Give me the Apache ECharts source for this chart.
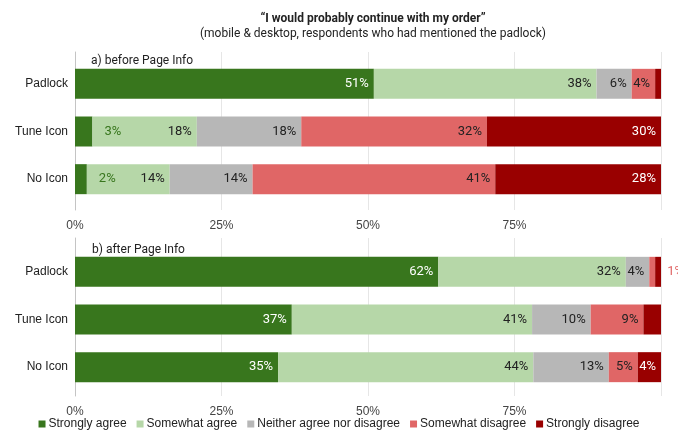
<!DOCTYPE html>
<html>
<head>
<meta charset="utf-8">
<script src="https://cdn.jsdelivr.net/npm/echarts@6/dist/echarts.min.js"></script>
<style>
  html, body { margin: 0; padding: 0; background: #fff; }
  #chart { width: 678px; height: 436px; }
</style>
</head>
<body>
<div id="chart"></div>
<script>
const categories = ["Padlock", "Tune Icon", "No Icon"];
const seriesNames = ["Strongly agree", "Somewhat agree", "Neither agree nor disagree", "Somewhat disagree", "Strongly disagree"];
const colors = ["#38761d", "#b6d7a8", "#b7b7b7", "#e06666", "#990000"];
const tickLabels = ["0%", "25%", "50%", "75%", ""];

// a) before Page Info, one array per answer, rows in category order
const beforeStronglyAgree = [51, 3, 2];
const beforeSomewhatAgree = [38, 18, 14];
const beforeNeither = [6, 18, 14];
const beforeSomewhatDisagree = [4, 32, 41];
const beforeStronglyDisagree = [1, 30, 28];

// b) after Page Info
const afterStronglyAgree = [62, 37, 35];
const afterSomewhatAgree = [32, 41, 44];
const afterNeither = [4, 10, 13];
const afterSomewhatDisagree = [1, 9, 5];
const afterStronglyDisagree = [1, 3, 4];

const before = [beforeStronglyAgree, beforeSomewhatAgree, beforeNeither, beforeSomewhatDisagree, beforeStronglyDisagree];
const after = [afterStronglyAgree, afterSomewhatAgree, afterNeither, afterSomewhatDisagree, afterStronglyDisagree];

const labelFont = "Roboto";
const plainFont = "Liberation Sans";

// 100% stacked: each row is scaled to its total, labels keep the read value
function buildSeries(groups, gridIdx) {
  const totals = categories.map((_, r) => groups.reduce((s, g) => s + g[r], 0));
  return groups.map((vals, si) => ({
    name: seriesNames[si],
    type: "bar",
    stack: "s" + gridIdx,
    xAxisIndex: gridIdx,
    yAxisIndex: gridIdx,
    barWidth: 30,
    itemStyle: { color: colors[si] },
    data: vals.map((v, r) => {
      const item = { value: (v / totals[r]) * 100, raw: v };
      if (v >= 4) {
        item.label = {
          show: true,
          position: "insideRight",
          distance: 5,
          color: si === 0 || si === 4 ? "#fff" : "#222",
        };
      } else if (si < groups.length - 1) {
        item.label = { show: true, position: "right", distance: 12, color: colors[si] };
      } else {
        item.label = { show: false };
      }
      return item;
    }),
    label: {
      fontFamily: labelFont,
      fontSize: 13,
      formatter: (p) => p.data.raw + "%",
    },
  }));
}

const mainGrid = { left: 75, right: 17, height: 143 };
const lineGrid = { left: 75, right: 17, height: 158 };

const valueAxisMain = (idx) => ({
  type: "value", gridIndex: idx, min: 0, max: 100, interval: 25,
  axisLabel: { show: false }, axisLine: { show: false }, axisTick: { show: false },
  splitLine: { show: false },
});
const valueAxisLines = (idx) => ({
  type: "value", gridIndex: idx, min: 0, max: 100, interval: 25,
  axisLine: { show: false }, axisTick: { show: false },
  splitLine: { show: true, lineStyle: { color: "#e6e6e6", width: 1 } },
  axisLabel: {
    margin: 10, color: "#444", fontFamily: plainFont, fontSize: 12,
    formatter: (v) => tickLabels[v / 25],
  },
});
const catAxis = (idx) => ({
  type: "category", gridIndex: idx, data: categories, inverse: true,
  axisLine: { show: false }, axisTick: { show: false },
  axisLabel: { margin: 7, color: "#222", fontFamily: plainFont, fontSize: 12 },
});
const lineYAxis = (idx) => ({
  type: "value", gridIndex: idx, min: 0, max: 1,
  axisLabel: { show: false }, axisTick: { show: false }, splitLine: { show: false },
  axisLine: { show: true, lineStyle: { color: "#c4c4c4", width: 1 } },
});

const subTitleStyle = { fontFamily: labelFont, fontWeight: "normal", fontSize: 12, color: "#222" };

const option = {
  animation: false,
  color: colors,
  title: [
    {
      text: "“I would probably continue with my order”",
      subtext: "(mobile & desktop, respondents who had mentioned the padlock)",
      left: 368, top: 8, textAlign: "center", itemGap: 3,
      textStyle: { fontFamily: labelFont, fontWeight: "bold", fontSize: 12, color: "#222" },
      subtextStyle: { fontFamily: labelFont, fontSize: 12, color: "#222" },
    },
    { text: "a) before Page Info", left: 86, top: 50, textStyle: subTitleStyle },
    { text: "b) after Page Info", left: 87, top: 239, textStyle: subTitleStyle },
  ],
  legend: {
    data: seriesNames,
    bottom: 1,
    left: "center",
    icon: "rect",
    itemWidth: 7,
    itemHeight: 7,
    itemGap: 10,
    textStyle: { fontFamily: plainFont, fontSize: 12, color: "#222", padding: [0, 0, 0, -2] },
  },
  grid: [
    Object.assign({ top: 60 }, mainGrid),
    Object.assign({ top: 248 }, mainGrid),
    Object.assign({ top: 52 }, lineGrid),
    Object.assign({ top: 238 }, lineGrid),
  ],
  xAxis: [valueAxisMain(0), valueAxisMain(1), valueAxisLines(2), valueAxisLines(3)],
  yAxis: [catAxis(0), catAxis(1), lineYAxis(2), lineYAxis(3)],
  series: buildSeries(before, 0).concat(buildSeries(after, 1)),
};

const chart = echarts.init(document.getElementById("chart"));
chart.setOption(option);
</script>
</body>
</html>
